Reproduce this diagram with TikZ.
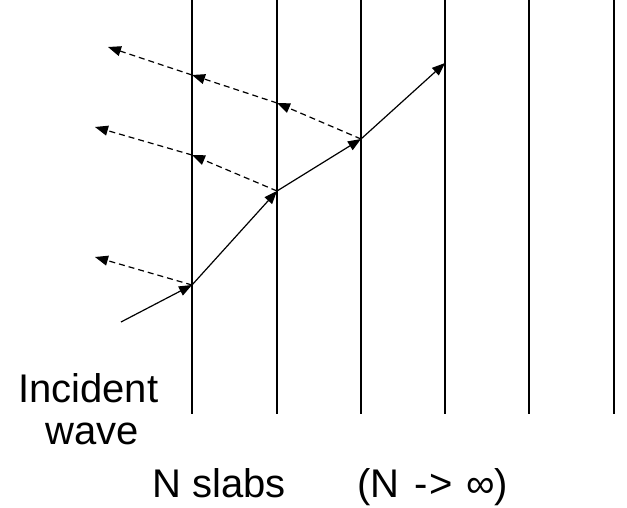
\documentclass[tikz,border=0pt]{standalone}
\usepackage{fontspec}
\setmainfont{Liberation Sans}
\usetikzlibrary{arrows.meta}
\begin{document}
\begin{tikzpicture}[x=1pt,y=-1pt,
  slab/.style={line width=1.3pt,black},
  ray/.style={line width=1.2pt,-{Triangle[length=13pt,width=10pt]}},
  refl/.style={ray,dash pattern=on 6pt off 4pt},
  lbl/.style={anchor=base west,inner sep=0pt,font=\fontsize{40}{44}\selectfont}]
\useasboundingbox[fill=white] (0,0) rectangle (627,508);
% slabs
\foreach \i/\x in {1/192,2/277,3/361,4/445,5/529,6/614}{
  \coordinate (t\i) at (\x,0);
  \coordinate (b\i) at (\x,414);
  \draw[slab] (t\i) -- (b\i);
}
% transmitted path
\coordinate (s) at (121,322);
\coordinate (p1) at (192,285);
\coordinate (p2) at (277,191);
\coordinate (p3) at (361,139);
\coordinate (p4) at (445,63);
\draw[ray] (s) -- (p1);
\draw[ray] (p1) -- (p2);
\draw[ray] (p2) -- (p3);
\draw[ray] (p3) -- (p4);
% reflections
\coordinate (r1) at (95,257);
\draw[refl] (p1) -- (r1);
\coordinate (q2) at (192,155);
\coordinate (r2) at (95,127);
\draw[refl] (p2) -- (q2);
\draw[refl] (q2) -- (r2);
\coordinate (q3a) at (277,103);
\coordinate (q3b) at (192,75);
\coordinate (r3) at (108,47);
\draw[refl] (p3) -- (q3a);
\draw[refl] (q3a) -- (q3b);
\draw[refl] (q3b) -- (r3);
% labels
\node[lbl] (inc) at (18,402) {Incident};
\node[lbl] (wave) at (45,444) {wave};
\node[lbl] (ns) at (152,497) {N slabs};
\node[lbl] (lim) at (357,497) {(N\hspace{15pt}-\kern2pt>\hspace{13pt}∞)};
\end{tikzpicture}
\end{document}
